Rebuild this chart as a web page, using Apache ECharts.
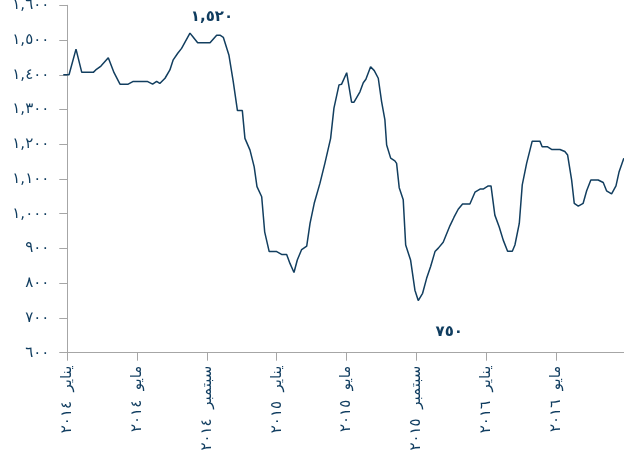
<!DOCTYPE html>
<html><head><meta charset="utf-8">
<script src="https://cdn.jsdelivr.net/npm/echarts@6/dist/echarts.min.js"></script>
<style>html,body{margin:0;padding:0;background:#fff}#c{width:624px;height:454px}</style>
</head><body><div id="c"></div>
<script>
// months since January 2014
const monthOffset = [-0.23,0.10,0.50,0.83,1.49,1.63,1.93,2.35,2.68,3.02,3.49,3.78,4.58,4.89,5.12,5.30,5.60,5.88,6.07,6.33,6.55,7.03,7.22,7.47,8.18,8.56,8.75,8.94,9.26,9.51,9.75,10.03,10.18,10.47,10.71,10.87,11.14,11.31,11.57,12.00,12.28,12.57,12.76,12.99,13.18,13.43,13.72,13.91,14.15,14.48,14.76,15.09,15.28,15.57,15.72,16.01,16.29,16.43,16.77,16.96,17.11,17.38,17.59,17.82,18.01,18.20,18.30,18.53,18.77,18.87,19.02,19.25,19.39,19.67,19.92,20.11,20.36,20.59,20.82,21.07,21.26,21.54,21.93,22.16,22.40,22.65,23.07,23.36,23.65,23.83,24.12,24.28,24.50,24.75,24.98,25.23,25.50,25.65,25.90,26.07,26.32,26.64,27.08,27.21,27.50,27.75,28.23,28.51,28.67,28.90,29.05,29.28,29.56,29.76,30.00,30.42,30.71,30.90,31.19,31.44,31.62,31.89];
const price = [1400,1400,1474,1407,1407,1414,1425,1449,1406,1373,1373,1381,1381,1373,1381,1375,1390,1414,1443,1462,1476,1520,1508,1492,1492,1514,1514,1508,1457,1380,1297,1297,1217,1183,1135,1078,1049,948,891,891,883,883,857,831,867,897,907,972,1030,1088,1145,1217,1304,1371,1373,1406,1321,1321,1351,1377,1387,1423,1412,1390,1323,1270,1198,1160,1152,1145,1075,1040,910,867,780,750,771,814,848,891,901,918,966,990,1013,1028,1028,1062,1071,1071,1080,1080,996,962,924,892,892,910,972,1083,1145,1209,1209,1193,1193,1185,1185,1179,1169,1097,1030,1022,1030,1066,1097,1097,1090,1066,1057,1080,1121,1160];
const tickMonths = [0,4,8,12,16,20,24,28];
const monthNames = {0:'يناير',4:'مايو',8:'سبتمبر'};
const annotations = [{m:7.03,v:1520},{m:20.11,v:750}];

const digits = '٠١٢٣٤٥٦٧٨٩';
function arDigits(s){ return String(s).replace(/\d/g, d => digits[+d]); }
function ar(n){
  return arDigits(String(Math.round(n)).replace(/\B(?=(\d{3})+(?!\d))/g, ','));
}
const TXT = '#0f3c5f';
const FONT = 'DejaVu Sans';
const chart = echarts.init(document.getElementById('c'));
chart.setOption({
  animation:false,
  grid:{left:60.3,right:0,top:5.3,bottom:101.3,containLabel:false,outerBoundsMode:'none'},
  xAxis:{type:'value',min:-0.4,max:31.9,
    splitLine:{show:false},
    axisLine:{lineStyle:{color:'#a6a6a6',width:1}},
    axisTick:{length:8,lineStyle:{color:'#a6a6a6'},customValues:tickMonths},
    axisLabel:{customValues:tickMonths,rotate:90,margin:13,color:TXT,fontFamily:FONT,fontSize:15,
      formatter:v=>monthNames[Math.round(v)%12]+'  '+arDigits(2014+Math.floor(Math.round(v)/12))}
  },
  yAxis:{type:'value',min:600,max:1600,interval:100,
    splitLine:{show:false},
    axisLine:{show:true,onZero:true,lineStyle:{color:'#a6a6a6',width:1}},
    axisTick:{show:true,length:8,lineStyle:{color:'#a6a6a6'}},
    axisLabel:{margin:11,color:TXT,fontFamily:FONT,fontSize:15,formatter:v=>ar(v)}
  },
  series:[{type:'line',data:monthOffset.map((m,i)=>[m,price[i]]),showSymbol:false,clip:false,
    lineStyle:{color:'#123e5f',width:1.5},itemStyle:{color:'#123e5f'},
    markPoint:{symbol:'circle',symbolSize:0,silent:true,
      label:{show:true,color:TXT,fontFamily:FONT,fontSize:15,fontWeight:'bold',formatter:p=>ar(p.data.coord[1])},
      data:[
        {coord:[annotations[0].m,annotations[0].v],label:{offset:[22,-16]}},
        {coord:[annotations[1].m,annotations[1].v],label:{offset:[31,32]}}
      ]}
  }]
});
</script></body></html>
